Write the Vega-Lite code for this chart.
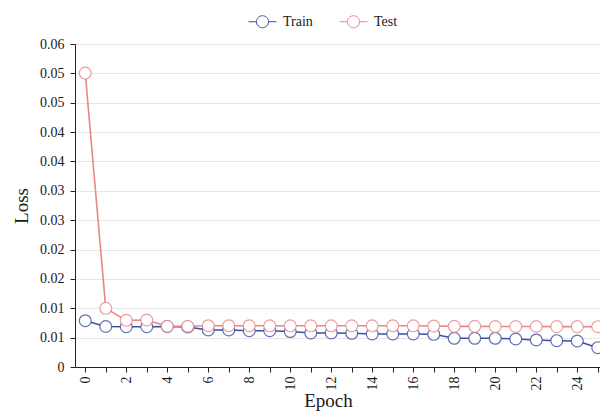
{
  "$schema": "https://vega.github.io/schema/vega-lite/v6.json",
  "width": 525,
  "height": 323,
  "autosize": {"type": "none"},
  "padding": {"left": 75, "top": 44, "right": 0, "bottom": 48},
  "background": "white",
  "config": {
    "font": "Liberation Serif",
    "view": {"stroke": null},
    "axis": {"labelFont": "Liberation Serif", "titleFont": "Liberation Serif", "labelColor": "#1a1a1a", "titleColor": "#1a1a1a", "labelFontSize": 14, "titleFontSize": 19, "titleFontWeight": "normal", "domainColor": "#222", "tickColor": "#222", "tickSize": 5, "gridColor": "#e6e6e6"},
    "legend": {"labelFont": "Liberation Serif", "labelFontSize": 14, "labelColor": "#1a1a1a"}
  },
  "data": {"values": [
    {"epoch": 0, "series": "Train", "loss": 0.0086},
    {"epoch": 1, "series": "Train", "loss": 0.00752},
    {"epoch": 2, "series": "Train", "loss": 0.00749},
    {"epoch": 3, "series": "Train", "loss": 0.00749},
    {"epoch": 4, "series": "Train", "loss": 0.00752},
    {"epoch": 5, "series": "Train", "loss": 0.00743},
    {"epoch": 6, "series": "Train", "loss": 0.00687},
    {"epoch": 7, "series": "Train", "loss": 0.00687},
    {"epoch": 8, "series": "Train", "loss": 0.00674},
    {"epoch": 9, "series": "Train", "loss": 0.00674},
    {"epoch": 10, "series": "Train", "loss": 0.00659},
    {"epoch": 11, "series": "Train", "loss": 0.00632},
    {"epoch": 12, "series": "Train", "loss": 0.00632},
    {"epoch": 13, "series": "Train", "loss": 0.00626},
    {"epoch": 14, "series": "Train", "loss": 0.00613},
    {"epoch": 15, "series": "Train", "loss": 0.00613},
    {"epoch": 16, "series": "Train", "loss": 0.00613},
    {"epoch": 17, "series": "Train", "loss": 0.00607},
    {"epoch": 18, "series": "Train", "loss": 0.00533},
    {"epoch": 19, "series": "Train", "loss": 0.00533},
    {"epoch": 20, "series": "Train", "loss": 0.00533},
    {"epoch": 21, "series": "Train", "loss": 0.0052},
    {"epoch": 22, "series": "Train", "loss": 0.00502},
    {"epoch": 23, "series": "Train", "loss": 0.00489},
    {"epoch": 24, "series": "Train", "loss": 0.00483},
    {"epoch": 25, "series": "Train", "loss": 0.00359},
    {"epoch": 0, "series": "Test", "loss": 0.0546},
    {"epoch": 1, "series": "Test", "loss": 0.0109},
    {"epoch": 2, "series": "Test", "loss": 0.00867},
    {"epoch": 3, "series": "Test", "loss": 0.00873},
    {"epoch": 4, "series": "Test", "loss": 0.00756},
    {"epoch": 5, "series": "Test", "loss": 0.00756},
    {"epoch": 6, "series": "Test", "loss": 0.00767},
    {"epoch": 7, "series": "Test", "loss": 0.00767},
    {"epoch": 8, "series": "Test", "loss": 0.00767},
    {"epoch": 9, "series": "Test", "loss": 0.00765},
    {"epoch": 10, "series": "Test", "loss": 0.00765},
    {"epoch": 11, "series": "Test", "loss": 0.00765},
    {"epoch": 12, "series": "Test", "loss": 0.00765},
    {"epoch": 13, "series": "Test", "loss": 0.00765},
    {"epoch": 14, "series": "Test", "loss": 0.00765},
    {"epoch": 15, "series": "Test", "loss": 0.00765},
    {"epoch": 16, "series": "Test", "loss": 0.00765},
    {"epoch": 17, "series": "Test", "loss": 0.00762},
    {"epoch": 18, "series": "Test", "loss": 0.00755},
    {"epoch": 19, "series": "Test", "loss": 0.00755},
    {"epoch": 20, "series": "Test", "loss": 0.00752},
    {"epoch": 21, "series": "Test", "loss": 0.00752},
    {"epoch": 22, "series": "Test", "loss": 0.00752},
    {"epoch": 23, "series": "Test", "loss": 0.0075},
    {"epoch": 24, "series": "Test", "loss": 0.0075},
    {"epoch": 25, "series": "Test", "loss": 0.00749}
  ]},
  "encoding": {
    "x": {"field": "epoch", "type": "quantitative", "title": "Epoch",
      "scale": {"domain": [-0.5, 25.11], "nice": false, "zero": false},
      "axis": {"values": [0,1,2,3,4,5,6,7,8,9,10,11,12,13,14,15,16,17,18,19,20,21,22,23,24,25], "grid": false, "labelAngle": -90, "labelAlign": "right", "labelBaseline": "middle", "labelExpr": "datum.value % 2 == 0 ? datum.value : ''", "labelPadding": 4, "titlePadding": 1, "titleX": 253}},
    "y": {"field": "loss", "type": "quantitative", "title": "Loss",
      "scale": {"domain": [0, 0.06], "nice": false},
      "axis": {"values": [0, 0.0054545, 0.0109091, 0.0163636, 0.0218182, 0.0272727, 0.0327273, 0.0381818, 0.0436364, 0.0490909, 0.0545455, 0.06], "grid": true, "labelExpr": "datum.value == 0 ? '0' : format(datum.value, '.2f')", "labelPadding": 6, "titlePadding": 8}},
    "color": {"field": "series", "type": "nominal",
      "scale": {"domain": ["Train", "Test"], "range": ["#3b4ea0", "#e8868a"]},
      "legend": {"title": null, "orient": "none", "legendX": 173, "legendY": -37, "direction": "horizontal",
        "symbolType": "M-1,0L-0.43,0M0.43,0L1,0M-0.43,0A0.43,0.43,0,1,1,0.43,0A0.43,0.43,0,1,1,-0.43,0Z",
        "symbolSize": 784, "symbolFillColor": "white", "symbolStrokeWidth": 1, "columnPadding": 24, "labelOffset": 6}}
  },
  "layer": [
    {"mark": {"type": "line", "strokeWidth": 1.6}},
    {"mark": {"type": "point", "shape": "circle", "filled": false, "fill": "white", "fillOpacity": 1, "size": 140, "strokeWidth": 1.2, "opacity": 1, "strokeOpacity": 0.8}}
  ]
}
